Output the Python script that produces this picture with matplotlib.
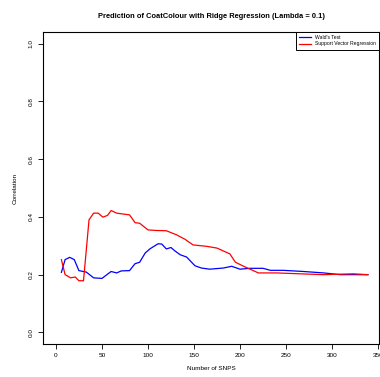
import matplotlib
matplotlib.use("Agg")
import matplotlib.pyplot as plt
import numpy as np

# %% Data
wald_x = [6, 10, 15, 20, 25, 33, 41, 50, 60, 66, 71, 80, 86, 91, 97, 102, 111, 115,
          120, 125, 129, 135, 142, 151, 158, 167, 182, 191, 200, 211, 225, 233,
          247, 269, 291, 309, 339]
wald_y = [0.208, 0.252, 0.260, 0.252, 0.214, 0.209, 0.189, 0.187, 0.211, 0.206,
          0.213, 0.214, 0.238, 0.243, 0.275, 0.289, 0.307, 0.306, 0.289, 0.294,
          0.283, 0.269, 0.261, 0.231, 0.223, 0.219, 0.223, 0.229, 0.219, 0.222,
          0.222, 0.215, 0.215, 0.211, 0.206, 0.200, 0.200]

svr_x = [6, 10, 16, 21, 25, 30, 36, 41, 46, 51, 56, 60, 66, 73, 80, 86, 91, 100,
         109, 120, 131, 140, 149, 164, 175, 189, 195, 204, 220, 240, 265, 291,
         323, 339]
svr_y = [0.252, 0.200, 0.189, 0.192, 0.179, 0.179, 0.390, 0.413, 0.413, 0.399,
         0.405, 0.422, 0.413, 0.410, 0.407, 0.380, 0.378, 0.355, 0.353, 0.352,
         0.338, 0.323, 0.303, 0.298, 0.292, 0.272, 0.243, 0.229, 0.206, 0.206,
         0.203, 0.200, 0.203, 0.200]

x_ticks = [0, 50, 100, 150, 200, 250, 300, 350]
y_ticks = [0.0, 0.2, 0.4, 0.6, 0.8, 1.0]

plt.rcParams['font.family'] = ['Liberation Sans', 'DejaVu Sans']

# %% Plot
fig = plt.figure(figsize=(3.8, 3.77), dpi=100)
ax = fig.add_axes([43/380, 33/377, 336/380, 312/377])

ax.plot(wald_x, wald_y, color='#0000ff', lw=0.9, label="Wald's Test")
ax.plot(svr_x, svr_y, color='#ff0000', lw=0.9, label="Support Vector Regression")

ax.set_xlim(-14, 351)
ax.set_ylim(-0.04, 1.04)
ax.set_xticks(x_ticks)
ax.set_yticks(y_ticks)
ax.set_xticklabels([str(v) for v in x_ticks])
ax.set_yticklabels(['%.1f' % v for v in y_ticks], rotation=90, va='center')
ax.tick_params(labelsize=4.6, length=3.5, width=0.6, pad=3)
for s in ax.spines.values():
    s.set_linewidth(0.8)

ax.set_xlabel('Number of SNPS', fontsize=4.6, labelpad=6)
ax.set_ylabel('Correlation', fontsize=4.6, labelpad=8)
ax.set_title('Prediction of CoatColour with Ridge Regression (Lambda = 0.1)',
             fontsize=5.4, fontweight='bold', pad=10)

leg = ax.legend(loc='upper right', fontsize=3.6, frameon=True, fancybox=False,
                edgecolor='black', framealpha=1, borderaxespad=0,
                handlelength=2.5, borderpad=0.6, labelspacing=0.3)
leg.get_frame().set_linewidth(0.7)

fig.savefig('out.png', dpi=100)
